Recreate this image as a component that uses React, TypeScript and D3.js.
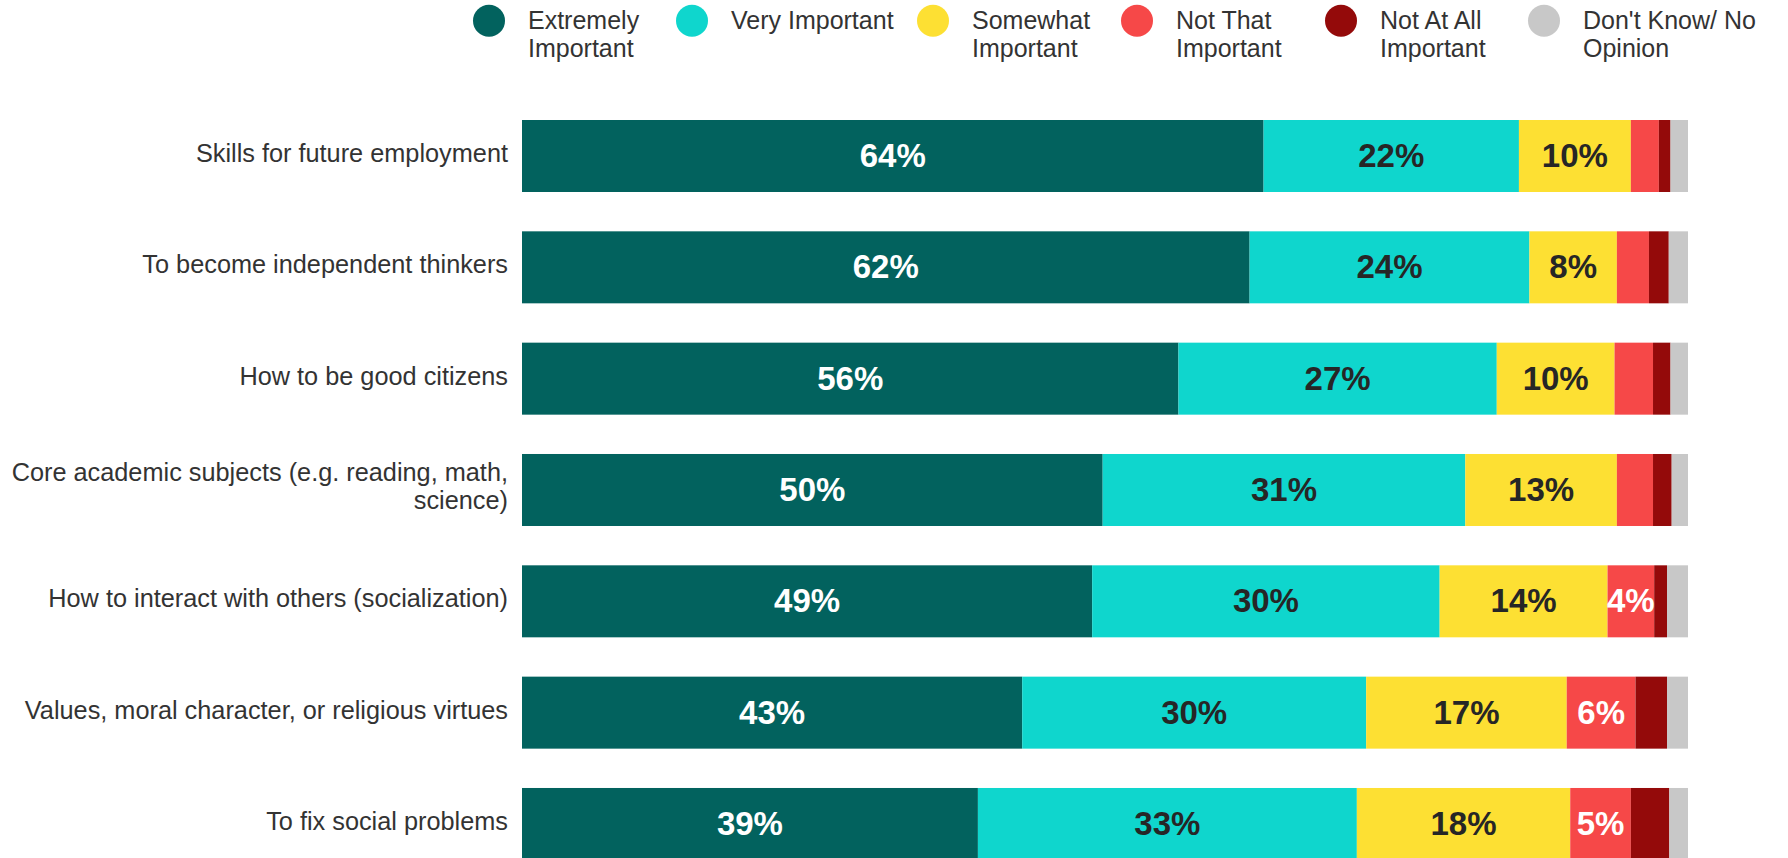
import React, { useEffect } from "react";
import * as d3 from "d3";

const categories: string[][] = [
  ["Skills for future employment"],
  ["To become independent thinkers"],
  ["How to be good citizens"],
  ["Core academic subjects (e.g. reading, math,", "science)"],
  ["How to interact with others (socialization)"],
  ["Values, moral character, or religious virtues"],
  ["To fix social problems"],
];

const seriesNames: string[][] = [
  ["Extremely", "Important"],
  ["Very Important"],
  ["Somewhat", "Important"],
  ["Not That", "Important"],
  ["Not At All", "Important"],
  ["Don't Know/ No", "Opinion"],
];

const extremely = [63.6, 62.4, 56.3, 49.8, 48.9, 42.9, 39.1];
const veryImportant = [21.9, 24.0, 27.3, 31.1, 29.8, 29.5, 32.5];
const somewhat = [9.6, 7.5, 10.1, 13.0, 14.4, 17.2, 18.3];
const notThat = [2.4, 2.75, 3.3, 3.1, 4.0, 5.9, 5.2];
const notAtAll = [1.0, 1.7, 1.5, 1.6, 1.1, 2.7, 3.3];
const dontKnow = [1.5, 1.65, 1.5, 1.4, 1.8, 1.8, 1.6];

const series = [extremely, veryImportant, somewhat, notThat, notAtAll, dontKnow];
const colors = ["#02625E", "#0FD6CD", "#FDE033", "#F64848", "#940A0A", "#C8C8C8"];
const labelColors = ["#FFFFFF", "#262626", "#262626", "#FFFFFF", "#FFFFFF", "#262626"];
const legendX = [489, 692, 933, 1137, 1341, 1544];

const W = 1788;
const H = 858;
const FONT = "'Liberation Sans', Arial, sans-serif";

export default function App() {
  useEffect(() => {
    document.body.style.margin = "0";
  }, []);

  const keys = categories.map((c) => c.join(" "));
  const x = d3.scaleLinear().domain([0, 100]).range([522, 1688]);
  const step = 111.33;
  const bw = 72;
  const y = d3
    .scaleBand<string>()
    .domain(keys)
    .range([120, 120 + step * (keys.length - 1) + bw])
    .paddingInner(1 - bw / step)
    .paddingOuter(0);

  const rows = keys.map((k, i) => {
    let acc = 0;
    return series.map((s, j) => {
      const x0 = acc;
      acc += s[i];
      return { key: k, j, x0, x1: acc, v: s[i] };
    });
  });

  return (
    <svg width={W} height={H} style={{ display: "block" }} fontFamily={FONT}>
      <rect width={W} height={H} fill="#fff" />
      {/* legend */}
      {seriesNames.map((lines, j) => (
        <g key={j}>
          <circle cx={legendX[j]} cy={20.7} r={16} fill={colors[j]} />
          {lines.map((t, li) => (
            <text key={li} x={legendX[j] + 39} y={29.3 + li * 27.4} fontSize={25} fill="#333">
              {t}
            </text>
          ))}
        </g>
      ))}
      {/* category labels */}
      {categories.map((lines, i) => {
        const cy = (y(keys[i]) as number) + y.bandwidth() / 2;
        const first = lines.length === 1 ? cy + 6 : cy - 9;
        return lines.map((t, li) => (
          <text
            key={i + "-" + li}
            x={508}
            y={first + li * 28.4}
            textAnchor="end"
            fontSize={25.3}
            fill="#333"
          >
            {t}
          </text>
        ));
      })}
      {/* bars */}
      {rows.map((segs, i) => (
        <g key={i}>
          {segs.map((s) => (
            <rect
              key={s.j}
              x={x(s.x0)}
              y={y(s.key)}
              width={x(s.x1) - x(s.x0)}
              height={y.bandwidth()}
              fill={colors[s.j]}
            />
          ))}
          {segs
            .filter((s) => Math.round(s.v) >= 4 && s.j < 5)
            .map((s) => (
              <text
                key={"l" + s.j}
                x={(x(s.x0) + x(s.x1)) / 2}
                y={(y(s.key) as number) + y.bandwidth() / 2 + 11}
                textAnchor="middle"
                fontSize={33}
                fontWeight="bold"
                fill={labelColors[s.j]}
              >
                {Math.round(s.v) + "%"}
              </text>
            ))}
        </g>
      ))}
    </svg>
  );
}
